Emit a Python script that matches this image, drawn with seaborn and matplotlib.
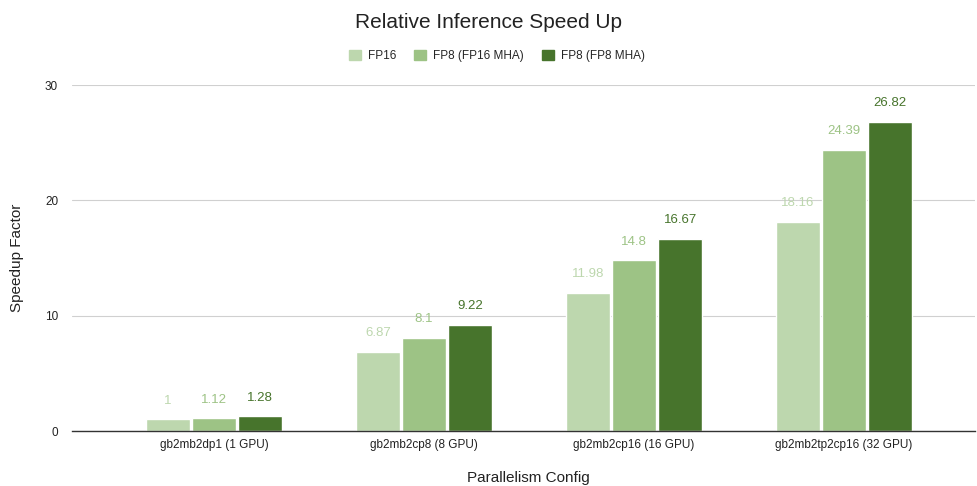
import pandas as pd
import matplotlib.pyplot as plt
import seaborn as sns

configs = ['gb2mb2dp1 (1 GPU)', 'gb2mb2cp8 (8 GPU)', 'gb2mb2cp16 (16 GPU)', 'gb2mb2tp2cp16 (32 GPU)']
series = ['FP16', 'FP8 (FP16 MHA)', 'FP8 (FP8 MHA)']
fp16 = [1, 6.87, 11.98, 18.16]
fp8_fp16_mha = [1.12, 8.1, 14.8, 24.39]
fp8_fp8_mha = [1.28, 9.22, 16.67, 26.82]
colors = ['#bdd7ae', '#9dc385', '#47742c']

rows = []
for name, vals in zip(series, [fp16, fp8_fp16_mha, fp8_fp8_mha]):
    for cfg, v in zip(configs, vals):
        rows.append({'config': cfg, 'series': name, 'speedup': v})
df = pd.DataFrame(rows)

sns.set_theme(style='white')
plt.rcParams['font.family'] = ['Liberation Sans', 'DejaVu Sans']

fig = plt.figure(figsize=(9.77, 4.86), dpi=100)
ax = fig.add_axes([72 / 977, 1 - 431 / 486, (975 - 72) / 977, (431 - 85) / 486])

sns.barplot(data=df, x='config', y='speedup', hue='series', palette=colors,
            saturation=1, width=0.66, gap=0.05, ax=ax, legend=False, errorbar=None)

# value labels above bars, coloured like the bar
for cont, col in zip(ax.containers, colors):
    labels = [f'{v:g}' for v in cont.datavalues]
    ax.bar_label(cont, labels=labels, padding=9, color=col, fontsize=9.5, clip_on=False)

ax.set_ylim(0, 30)
ax.set_xlim(-142 / 210, 3 + 131 / 210)
ax.set_yticks([0, 10, 20, 30])
ax.yaxis.grid(True, color='#d0d0d0', linewidth=0.8)
ax.set_axisbelow(True)
for s in ['top', 'right', 'left']:
    ax.spines[s].set_visible(False)
ax.spines['bottom'].set_color('#333333')
ax.spines['bottom'].set_linewidth(1)
ax.tick_params(axis='both', length=0, labelsize=8.5, colors='#222222', pad=6)
ax.tick_params(axis='y', pad=10)

ax.set_xlabel('Parallelism Config', fontsize=11, color='#222222')
ax.xaxis.set_label_coords(0.505, -40 / 346)
ax.set_ylabel('Speedup Factor', fontsize=11, color='#222222')
ax.yaxis.set_label_coords(-48 / 903, 0.5)

fig.text(0.5, 1 - 22 / 486, 'Relative Inference Speed Up', ha='center', va='center',
         fontsize=15, color='#222222')

handles = [plt.Rectangle((0, 0), 1, 1, color=c) for c in colors]
fig.legend(handles, series, loc='center', bbox_to_anchor=(497 / 977, 1 - 56 / 486),
           ncol=3, frameon=False, fontsize=8.5, handlelength=1.0, handleheight=1.0,
           columnspacing=1.5, handletextpad=0.6)

fig.savefig('out.png', dpi=100)
